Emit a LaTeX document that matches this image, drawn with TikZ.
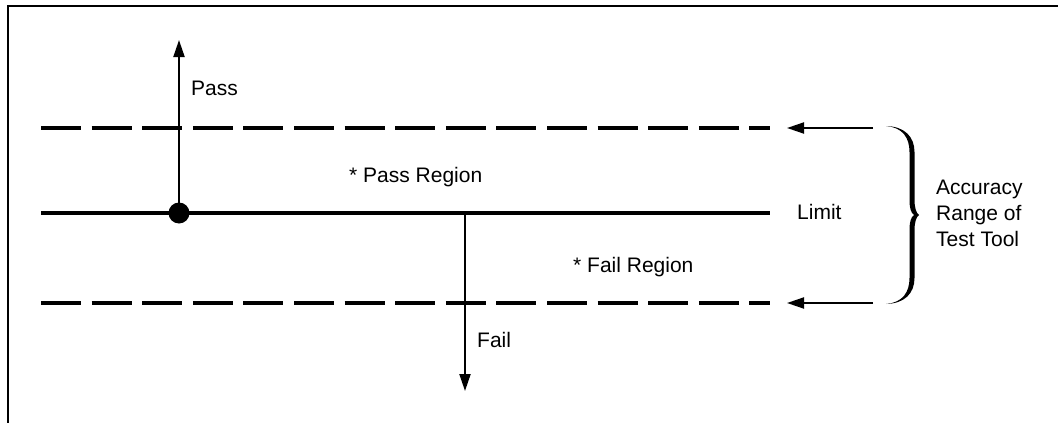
\documentclass[tikz,border=0pt]{standalone}
\usepackage{fontspec}
\setmainfont{Liberation Sans}
\usetikzlibrary{arrows.meta}
\begin{document}
\begin{tikzpicture}[x=1pt,y=-1pt,
  lbl/.style={anchor=base west,inner sep=0pt,font=\fontsize{21}{26}\selectfont},
  dashline/.style={line width=4pt,dash pattern=on 40pt off 10.6pt},
  solidline/.style={line width=3.5pt},
  arr/.style={line width=2pt,-{Triangle[length=17pt,width=11pt]}},
  frame/.style={line width=2pt},
  bracestyle/.style={fill=black}]
\useasboundingbox (0,0) rectangle (1058,423);
% partial frame
\draw[frame] (8,423) -- (8,6) -- (1058,6);
% coordinates
\coordinate (tl) at (41,128);
\coordinate (tr) at (770,128);
\coordinate (ml) at (41,213);
\coordinate (mr) at (770,213);
\coordinate (bl) at (41,303);
\coordinate (br) at (770,303);
\coordinate (passtop) at (179,40);
\coordinate (failtop) at (465,213);
\coordinate (failtip) at (465,391);
\coordinate (atS) at (873,128);
\coordinate (atE) at (787,128);
\coordinate (abS) at (873,303);
\coordinate (abE) at (787,303);
% lines
\draw[dashline] (tl) -- (tr);
\draw[dashline] (bl) -- (br);
\draw[solidline] (ml) -- (mr);
% dot
\node[circle,fill=black,minimum size=21pt,inner sep=0pt] (dot) at (179,213) {};
% arrows
\draw[arr] (dot.center) -- (passtop);
\draw[arr] (failtop) -- (failtip);
\draw[arr] (atS) -- (atE);
\draw[arr] (abS) -- (abE);
% brace (filled, tapered ends)
\fill[bracestyle] (886,126)
  .. controls (905,126.5) and (914.5,137) .. (914.5,152) -- (914.5,200)
  .. controls (914.5,207) and (916,213) .. (919,215)
  .. controls (916,217) and (914.5,223) .. (914.5,230) -- (914.5,278)
  .. controls (914.5,293) and (905,303.5) .. (886,304)
  .. controls (903,302.5) and (909.5,292) .. (909.5,278) -- (909.5,230)
  .. controls (909.5,222) and (911,217) .. (914,215)
  .. controls (911,213) and (909.5,208) .. (909.5,200) -- (909.5,152)
  .. controls (909.5,138) and (903,127.5) .. (886,126) -- cycle;
% labels
\node[lbl] (pass) at (191,95) {Pass};
\node[lbl] (fail) at (477,347) {Fail};
\node[lbl] (limit) at (797,219) {Limit};
\node[lbl] (preg) at (349,182) {* Pass Region};
\node[lbl] (freg) at (573,272) {* Fail Region};
\node[lbl,anchor=west,align=left] (acc) at (936,213) {Accuracy\\Range of\\Test Tool};
\end{tikzpicture}
\end{document}
